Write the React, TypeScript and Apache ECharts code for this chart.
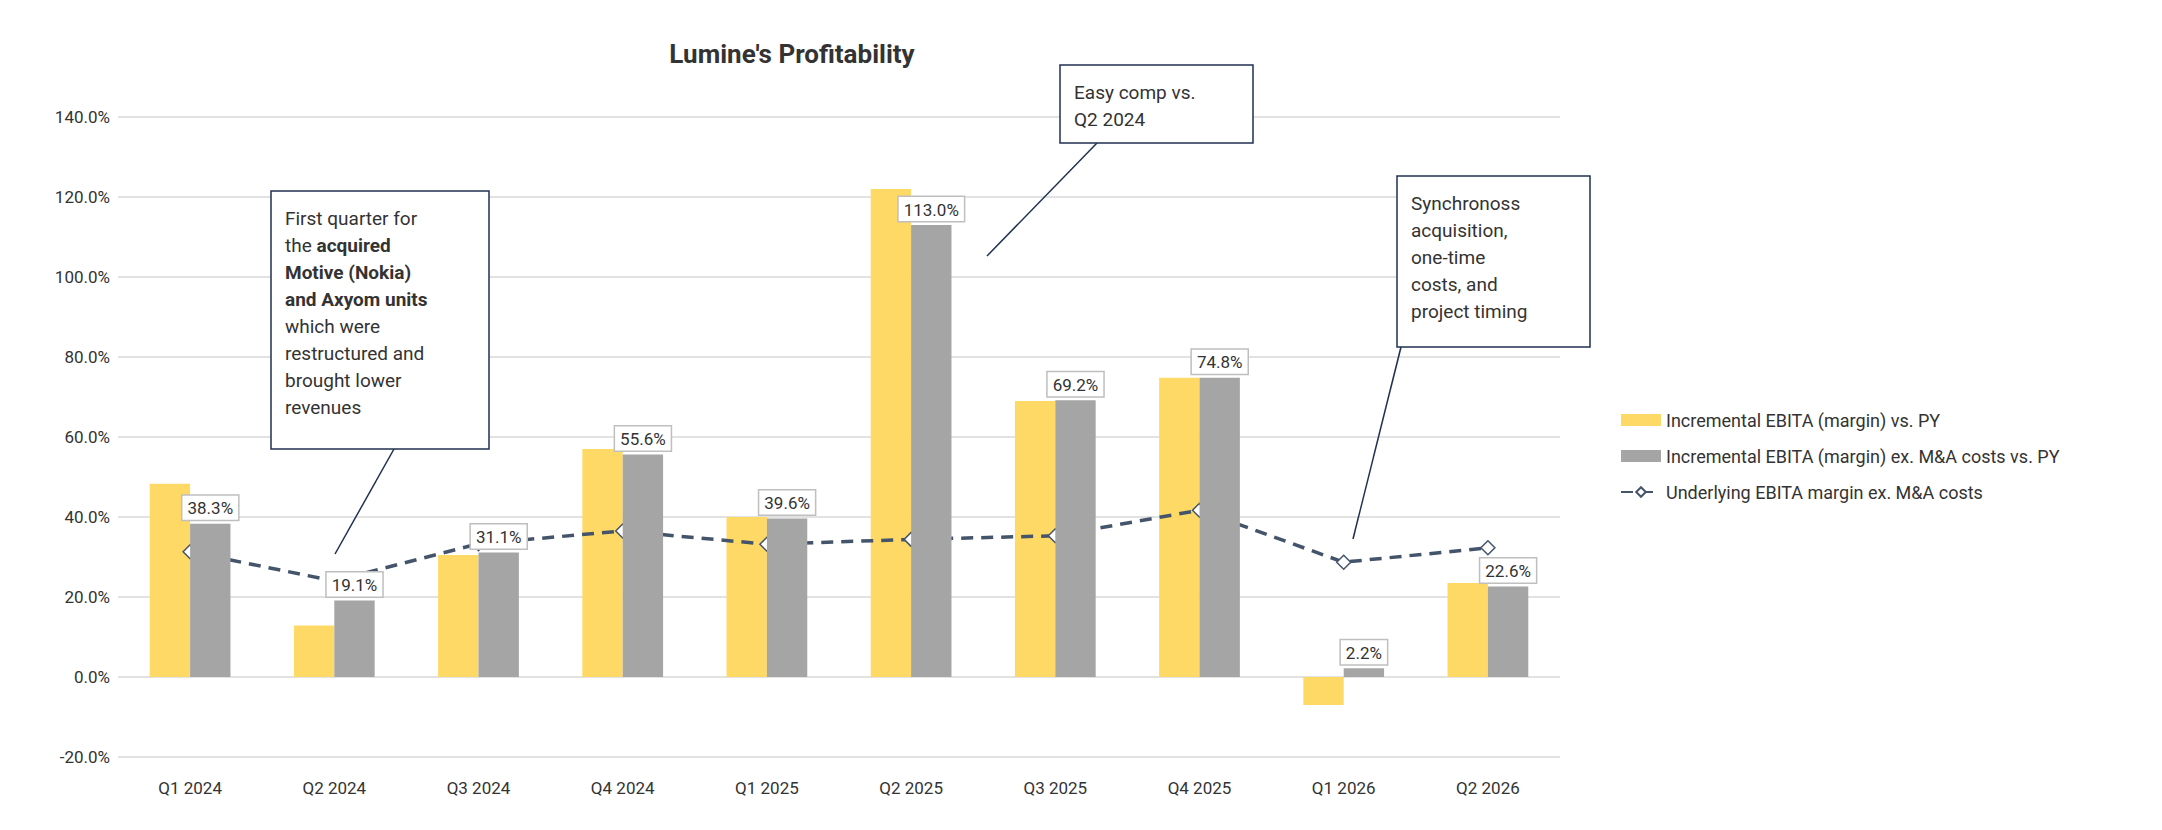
import React, { useEffect, useRef } from "react";
import * as echarts from "echarts";

const categories = ["Q1 2024", "Q2 2024", "Q3 2024", "Q4 2024", "Q1 2025", "Q2 2025", "Q3 2025", "Q4 2025", "Q1 2026", "Q2 2026"];
const incremental = [48.3, 12.9, 30.5, 57.0, 40.0, 122.0, 69.0, 74.8, -7.0, 23.5];
const incrementalExMA = [38.3, 19.1, 31.1, 55.6, 39.6, 113.0, 69.2, 74.8, 2.2, 22.6];
const underlying = [31.3, 24.0, 33.3, 36.5, 33.2, 34.4, 35.3, 41.7, 28.7, 32.3];

const NAVY = "#1F3050";
const FONT = "Roboto";

function box(x: number, y: number, w: number, h: number, text: string, line: number[]) {
  return [
    { type: "rect", shape: { x, y, width: w, height: h }, style: { fill: "#fff", stroke: NAVY, lineWidth: 1.5 }, z: 100 },
    {
      type: "text", x: x + 14, y: y + 14, z: 101,
      style: {
        text, fontFamily: FONT, fontSize: 19, lineHeight: 27, fill: "#333",
        rich: { b: { fontWeight: "bold", fontFamily: FONT, fontSize: 19, lineHeight: 27, fill: "#333" } },
      },
    },
    { type: "line", shape: { x1: line[0], y1: line[1], x2: line[2], y2: line[3] }, style: { stroke: NAVY, lineWidth: 1.5 }, z: 99 },
  ];
}

export default function App() {
  const ref = useRef<HTMLDivElement | null>(null);

  useEffect(() => {
    const chart = echarts.init(ref.current!, null, { renderer: "svg" });
    chart.setOption({
      animation: false,
      backgroundColor: "#fff",
      textStyle: { fontFamily: FONT },
      title: {
        text: "Lumine's Profitability", left: 779, top: 28, textAlign: "center",
        textStyle: { fontFamily: FONT, fontSize: 26, fontWeight: "bold", color: "#333" },
      },
      grid: { left: 110, right: 594, top: 109, bottom: 65 },
      legend: {
        orient: "vertical", left: 1607, top: 398, itemGap: 18, itemWidth: 40, itemHeight: 12,
        textStyle: { fontFamily: FONT, fontSize: 18, color: "#333" },
        data: [
          { name: "Incremental EBITA (margin) vs. PY", icon: "rect" },
          { name: "Incremental EBITA (margin) ex. M&A costs vs. PY", icon: "rect" },
          { name: "Underlying EBITA margin ex. M&A costs" },
        ],
      },
      xAxis: {
        type: "category", data: categories,
        axisLine: { show: false }, axisTick: { show: false },
        axisLabel: { color: "#333", fontSize: 17, margin: 22, fontFamily: FONT },
      },
      yAxis: {
        type: "value", min: -20, max: 140, interval: 20,
        axisLabel: { color: "#333", fontSize: 17, fontFamily: FONT, formatter: (v: number) => v.toFixed(1) + "%" },
        splitLine: { lineStyle: { color: "#D9D9D9", width: 1.5 } },
      },
      series: [
        {
          name: "Incremental EBITA (margin) vs. PY", type: "bar", data: incremental,
          itemStyle: { color: "#FFD966" }, barGap: "0%", barCategoryGap: "44%",
        },
        {
          name: "Incremental EBITA (margin) ex. M&A costs vs. PY", type: "bar", data: incrementalExMA,
          itemStyle: { color: "#A5A5A5" },
          label: {
            show: true, position: "top", distance: 4, formatter: (p: any) => p.value.toFixed(1) + "%",
            backgroundColor: "#fff", borderColor: "#BFBFBF", borderWidth: 1.5, padding: [4, 5, 3, 5],
            color: "#333", fontSize: 17, fontFamily: FONT,
          },
          z: 3,
        },
        {
          name: "Underlying EBITA margin ex. M&A costs", type: "line", data: underlying,
          lineStyle: { color: "#44546A", width: 3.5, type: [12, 8] },
          itemStyle: { color: "#fff", borderColor: "#44546A", borderWidth: 1.5 },
          symbol: "diamond", symbolSize: 14, z: 2,
        },
      ],
      graphic: [
        ...box(263, 183, 218, 258,
          "First quarter for\nthe {b|acquired}\n{b|Motive (Nokia)}\n{b|and Axyom units}\nwhich were\nrestructured and\nbrought lower\nrevenues",
          [386, 441, 327, 546]),
        ...box(1052, 57, 193, 78, "Easy comp vs.\nQ2 2024", [1089, 135, 979, 248]),
        ...box(1389, 168, 193, 171, "Synchronoss\nacquisition,\none-time\ncosts, and\nproject timing", [1393, 339, 1345, 531]),
      ],
    });
    return () => chart.dispose();
  }, []);

  return <div ref={ref} style={{ width: 2146, height: 814 }} />;
}
